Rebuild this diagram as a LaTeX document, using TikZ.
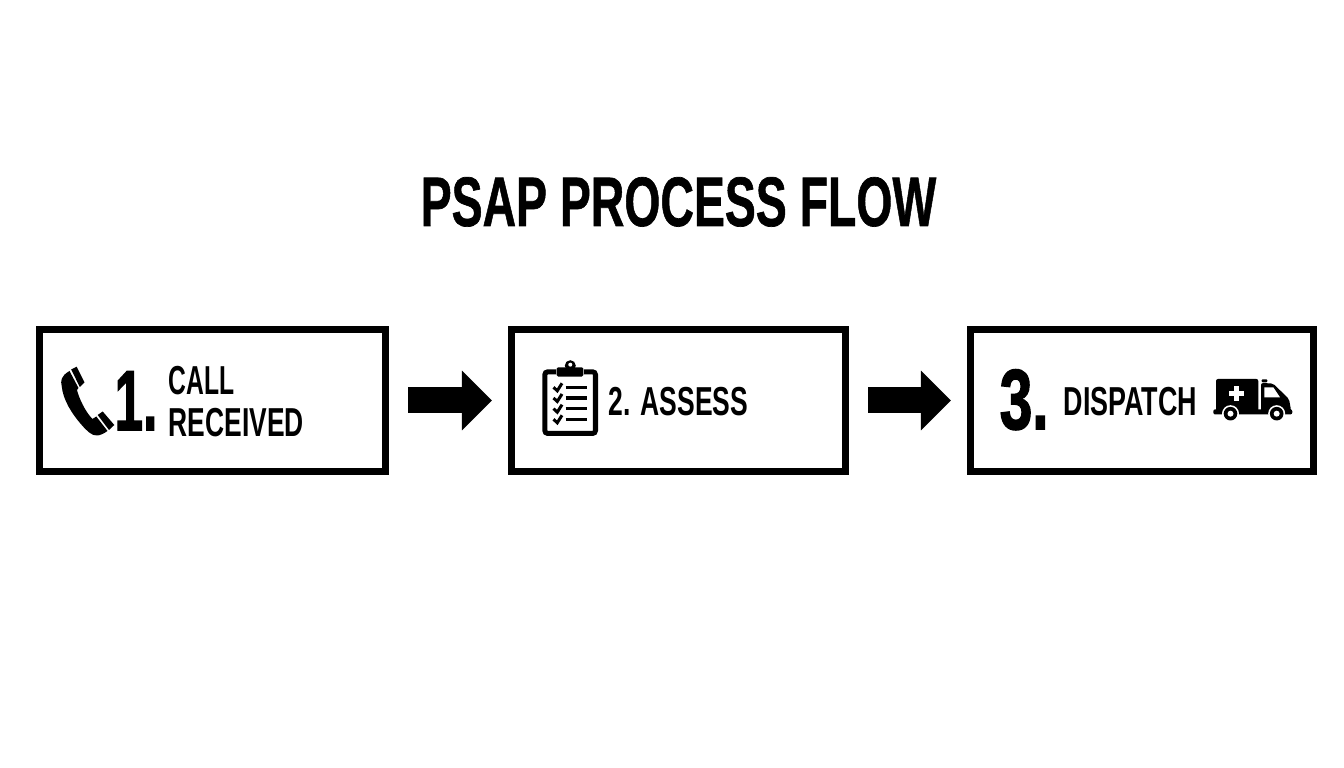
\documentclass[tikz,border=0pt]{standalone}
\usepackage{fontspec}
\setmainfont{Liberation Sans}
\newfontfamily\heavyfont[BoldFeatures={FakeBold=2}]{Liberation Sans}
\newfontfamily\thickfont[BoldFeatures={FakeBold=1}]{Liberation Sans}
\usetikzlibrary{arrows.meta}

\tikzset{
    stepbox/.style={draw, line width=0.07cm, minimum width=#1, minimum height=1.42cm},
    flowarrow/.style={line width=0.26cm, -{Triangle[length=0.3cm, width=0.58cm]}, shorten <=0.19cm, shorten >=0.16cm},
    bigtext/.style={font=\fontsize{24.2}{25}\selectfont\heavyfont\bfseries, anchor=base west, inner sep=0pt},
    steptext/.style={font=\fontsize{11.5}{11.95}\selectfont\bfseries, anchor=base west, inner sep=0pt},
    headtext/.style={font=\fontsize{19.9}{20}\selectfont\thickfont\bfseries, anchor=base west, inner sep=0pt},
}

\begin{document}
\begin{tikzpicture}[x=0.01cm, y=-0.01cm]
    \useasboundingbox (0,0) rectangle (1344,768);

    % Title
    \node[headtext] (title) at (420,226) {\scalebox{0.663}[1]{PSAP PROCESS FLOW}};

    % Boxes
    \node[stepbox=3.46cm] (call) at (212.5,400.5) {};
    \node[stepbox=3.34cm] (assess) at (678.5,400.5) {};
    \node[stepbox=3.43cm] (dispatch) at (1142,400.5) {};

    % Arrows
    \draw[flowarrow] (call) -- (assess);
    \draw[flowarrow] (assess) -- (dispatch);

    % Texts in the boxes
    \node[bigtext] (one) at (114,430) {\scalebox{0.60}[1]{1.}};
    \node[steptext, align=left] (calltext) at (168,437) {\scalebox{0.61}[1]{CALL}\\\scalebox{0.653}[1]{RECEIVED}};
    \node[steptext] (assesstext) at (608,416) {\scalebox{0.655}[1]{2. ASSESS}};
    \node[bigtext] (three) at (999,429) {\scalebox{0.69}[1]{3.}};
    \node[steptext] (dispatchtext) at (1063,416) {\scalebox{0.665}[1]{DISPATCH}};

    % Phone
    \fill[line join=round] (69.5,371) .. controls (60.7,376) and (60.5,381) .. (61.7,386)
        .. controls (63,400) and (72,414) .. (81.7,425)
        .. controls (87,431) and (92,436) .. (97,435.5)
        .. controls (100,435.5) and (104,433.5) .. (107.5,431)
        -- (96.3,416.5) -- (92.5,419)
        .. controls (85,411.7) and (78.5,396.7) .. (77,390) -- (78.5,388) -- cycle;
    \fill[line join=round] (71.2,369.5) -- (76.7,366.7) -- (84.5,382.3) -- (79.8,387) -- cycle;
    \fill[line join=round] (97.7,415) -- (102.7,411.5) -- (114.3,425) -- (109,430) -- cycle;

    % Clipboard
    \draw[line width=0.05cm, rounded corners=0.03cm] (556,371.8) -- (544.8,371.8) -- (544.8,433.5)
        -- (595.5,433.5) -- (595.5,371.8) -- (584,371.8);
    \fill[rounded corners=0.015cm] (556.7,367.3) rectangle (583.3,376.7);
    \fill (570.3,365.7) circle (5.5);
    \fill[white] (570.3,364.7) circle (2);
    \foreach \ypos in {387.3,398,408.7,419.3} {
        \draw[line width=0.033cm] (565.7,\ypos) -- (586.7,\ypos);
        \draw[line width=0.03cm] (553.5,\ypos) -- (557.3,\ypos+3.5) -- (562,\ypos-4);
    }

    % Ambulance
    \fill[rounded corners=0.02cm] (1216,379) rectangle (1258.3,414);
    \fill[rounded corners=0.02cm] (1261,383) -- (1273,383.5) -- (1289,399) -- (1291,410) -- (1291,414) -- (1261,414) -- cycle;
    \fill[rounded corners=0.02cm] (1213.3,409.3) rectangle (1292.3,414.5);
    \fill[rounded corners=0.01cm] (1261.7,379.3) rectangle (1267.3,382.3);
    \fill[white] (1264.3,387.3) -- (1273.3,387.3) -- (1280,397.3) -- (1264.3,397.3) -- cycle;
    \fill[white] (1234,385.7) rectangle (1239.3,401);
    \fill[white] (1229,390.7) rectangle (1244.3,396);
    \foreach \xpos in {1230.5,1276.7} {
        \fill[white] (\xpos,413.7) circle (8.5);
        \fill (\xpos,413.7) circle (6.8);
        \fill[white] (\xpos,413.7) circle (3);
    }
\end{tikzpicture}
\end{document}
